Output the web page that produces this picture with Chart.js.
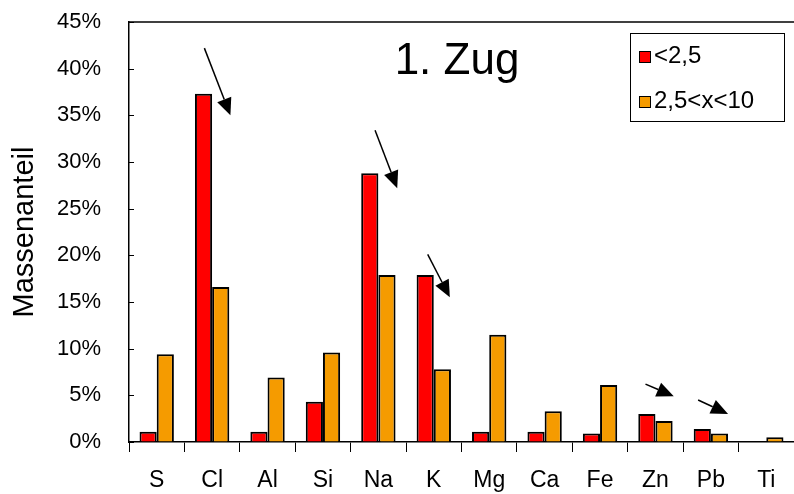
<!DOCTYPE html>
<html>
<head>
<meta charset="utf-8">
<script src="https://cdn.jsdelivr.net/npm/chart.js@4.4.0/dist/chart.umd.min.js"></script>
<style>
  html, body { margin: 0; padding: 0; background: #fff; }
  #wrap { width: 794px; height: 494px; }
</style>
</head>
<body>
<div id="wrap"><canvas id="myChart" width="794" height="494"></canvas></div>
<script>
// data (Massenanteil in %)
var elemente = ['S', 'Cl', 'Al', 'Si', 'Na', 'K', 'Mg', 'Ca', 'Fe', 'Zn', 'Pb', 'Ti'];
var fein = [1.1, 37.3, 1.1, 4.3, 28.8, 17.9, 1.1, 1.1, 0.9, 3.0, 1.4, 0];        // <2,5
var grob = [9.4, 16.6, 6.9, 9.6, 17.9, 7.8, 11.5, 3.3, 6.1, 2.25, 0.9, 0.5];   // 2,5<x<10
var yTicks = [0, 5, 10, 15, 20, 25, 30, 35, 40, 45];

// arrows: category, x shift (fraction of category) and value at tail / head
var pfeile = [
    { kat: 'Cl', x0: -0.14, y0: 42.2, x1: 0.33, y1: 35.0 },
    { kat: 'Na', x0: -0.06, y0: 33.4, x1: 0.34, y1: 27.2 },
    { kat: 'K',  x0: -0.11, y0: 20.1, x1: 0.29, y1: 15.5 },
    { kat: 'Zn', x0: -0.18, y0: 6.2,  x1: 0.33, y1: 4.9 },
    { kat: 'Pb', x0: -0.23, y0: 4.5,  x1: 0.31, y1: 3.0 }
];

var fontName = '"Liberation Sans", Arial, sans-serif';

var extras = {
    id: 'extras',
    afterDraw: function (chart) {
        var c = chart.ctx;
        var a = chart.chartArea;
        var x = chart.scales.x;
        var y = chart.scales.y;
        c.save();

        // frame top line
        c.strokeStyle = '#000';
        c.lineWidth = 1.5;
        c.beginPath();
        c.moveTo(a.left, a.top);
        c.lineTo(a.right, a.top);
        c.stroke();

        // inner y ticks
        c.lineWidth = 1;
        yTicks.forEach(function (v) {
            var py = Math.round(y.getPixelForValue(v)) + 0.5;
            c.beginPath();
            c.moveTo(a.left, py);
            c.lineTo(a.left + 5, py);
            c.stroke();
        });

        // title
        c.fillStyle = '#000';
        c.font = '44px ' + fontName;
        c.textAlign = 'center';
        c.textBaseline = 'alphabetic';
        c.fillText('1. Zug', 457, 74);

        // legend box
        var lx = 630, ly = 33, lw = 154, lh = 88;
        c.lineWidth = 1;
        c.strokeStyle = '#000';
        c.fillStyle = '#fff';
        c.fillRect(lx, ly, lw, lh);
        c.strokeRect(lx + 0.5, ly + 0.5, lw, lh);
        c.font = '24px ' + fontName;
        c.textAlign = 'left';
        chart.data.datasets.forEach(function (ds, i) {
            var sy = ly + 18 + i * 45;
            c.fillStyle = ds.backgroundColor;
            c.fillRect(lx + 9, sy, 11, 11);
            c.strokeRect(lx + 9.5, sy + 0.5, 11, 11);
            c.fillStyle = '#000';
            c.fillText(ds.label, lx + 24, sy + 12);
        });

        // arrows
        var cw = (a.right - a.left) / elemente.length;
        c.fillStyle = '#000';
        c.strokeStyle = '#000';
        c.lineWidth = 1.5;
        pfeile.forEach(function (p) {
            var i = elemente.indexOf(p.kat);
            var cx = x.getPixelForValue(i);
            var x0 = cx + p.x0 * cw, y0 = y.getPixelForValue(p.y0);
            var x1 = cx + p.x1 * cw, y1 = y.getPixelForValue(p.y1);
            var ang = Math.atan2(y1 - y0, x1 - x0);
            var len = 17, half = 7.5;
            var bx = x1 - len * Math.cos(ang), by = y1 - len * Math.sin(ang);
            c.beginPath();
            c.moveTo(x0, y0);
            c.lineTo(bx, by);
            c.stroke();
            c.beginPath();
            c.moveTo(x1, y1);
            c.lineTo(bx + half * Math.sin(ang), by - half * Math.cos(ang));
            c.lineTo(bx - half * Math.sin(ang), by + half * Math.cos(ang));
            c.closePath();
            c.fill();
        });

        c.restore();
    }
};

var ctx = document.getElementById('myChart').getContext('2d');
var chart = new Chart(ctx, {
    type: 'bar',
    data: {
        labels: elemente,
        datasets: [{
            label: '<2,5',
            data: fein,
            backgroundColor: '#ff0000',
            borderColor: '#000',
            borderWidth: 2,
            categoryPercentage: 0.62,
            barPercentage: 1.0
        }, {
            label: '2,5<x<10',
            data: grob,
            backgroundColor: '#f59b00',
            borderColor: '#000',
            borderWidth: 2,
            categoryPercentage: 0.62,
            barPercentage: 1.0
        }]
    },
    options: {
        responsive: false,
        animation: false,
        layout: { padding: { top: 22, right: 0, left: 0, bottom: 0 } },
        plugins: {
            legend: { display: false },
            tooltip: { enabled: false }
        },
        scales: {
            x: {
                grid: { drawOnChartArea: false, color: '#000', tickLength: 10, offset: true },
                border: { color: '#000', width: 1.5 },
                ticks: { color: '#000', font: { family: fontName, size: 23 }, padding: 15, maxRotation: 0 },
                afterFit: function (s) { s.height = 52; s.paddingLeft = 0; s.paddingRight = 0; }
            },
            y: {
                min: 0,
                max: 45,
                grid: { drawOnChartArea: false, drawTicks: false },
                border: { color: '#000', width: 1.5 },
                ticks: {
                    stepSize: 5,
                    color: '#000',
                    padding: 28,
                    font: { family: fontName, size: 22 },
                    callback: function (v) { return v + '%'; }
                },
                title: {
                    display: true,
                    text: 'Massenanteil',
                    color: '#000',
                    font: { family: fontName, size: 29 },
                    padding: { top: 8, bottom: 0 }
                },
                afterFit: function (s) { s.width = 129; s.paddingTop = 0; s.paddingBottom = 0; }
            }
        }
    },
    plugins: [extras]
});
</script>
</body>
</html>
